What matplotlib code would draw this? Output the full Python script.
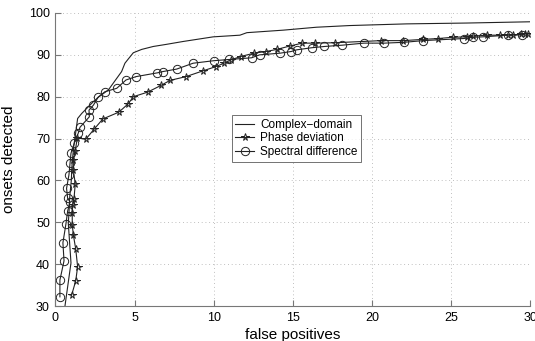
import matplotlib
matplotlib.use('Agg')
import matplotlib.pyplot as plt

# Complex-domain (line only)
cd_fp = [0.60, 0.98, 0.81, 0.85, 0.90, 1.00, 1.05, 1.15, 1.30, 1.40, 1.66, 2.39, 2.75,
         3.34, 3.76, 4.18, 4.39, 4.60, 4.92, 5.45, 6.18, 7.00, 8.08, 9.97, 11.66, 12.1,
         14.4, 16.5, 18.6, 22.2, 26.0, 30.0]
cd_on = [30.0, 40.3, 49.8, 52.0, 56.0, 60.0, 64.0, 68.0, 72.0, 74.8, 76.0, 78.8, 80.0,
         81.6, 83.8, 86.0, 88.0, 89.0, 90.5, 91.3, 92.0, 92.5, 93.2, 94.3, 94.7, 95.3,
         95.9, 96.6, 97.0, 97.4, 97.6, 97.9]

# Phase deviation (stars)
pd_fp = [1.02, 1.28, 1.40, 1.28, 1.13, 1.06, 1.06, 1.09, 1.17, 1.25, 1.13, 1.13, 1.25,
         1.38, 1.93, 2.43, 3.00, 4.00, 4.60, 4.92, 5.83, 6.67, 7.24, 8.25, 9.34, 10.15,
         10.65, 11.1, 11.7, 12.55, 13.3, 14.0, 14.8, 15.6, 16.4, 17.7, 20.6, 22.0, 23.25,
         24.2, 25.1, 26.0, 26.4, 27.3, 28.1, 28.6, 28.9, 29.4, 29.7, 29.9]
pd_on = [32.6, 36.0, 39.4, 43.6, 47.0, 49.4, 52.3, 54.2, 55.6, 59.2, 62.5, 64.9, 67.1,
         70.1, 69.9, 72.2, 74.7, 76.3, 78.3, 80.0, 81.1, 82.7, 83.9, 84.8, 86.2, 87.2,
         88.0, 88.8, 89.6, 90.4, 90.8, 91.3, 92.1, 92.8, 92.8, 92.9, 93.4, 93.4, 93.7,
         93.9, 94.2, 94.3, 94.5, 94.7, 94.7, 94.8, 94.8, 94.9, 95.0, 95.0]

# Spectral difference (circles)
sd_fp = [0.28, 0.28, 0.54, 0.47, 0.66, 0.77, 0.92, 0.77, 0.70, 0.85, 0.92, 0.98, 1.20,
         1.44, 1.55, 2.14, 2.12, 2.40, 2.70, 3.13, 3.87, 4.46, 5.09, 6.44, 6.78, 7.66,
         8.70, 10.0, 11.0, 12.4, 12.9, 14.2, 14.9, 15.25, 16.2, 17.0, 18.1, 19.5, 20.8,
         22.05, 23.25, 25.8, 26.4, 27.0, 28.6, 29.5]
sd_on = [32.2, 36.2, 40.8, 45.1, 49.6, 52.7, 54.9, 55.7, 58.1, 61.3, 64.1, 66.5, 69.0,
         71.3, 72.7, 75.2, 76.8, 78.0, 79.9, 81.2, 82.0, 84.0, 84.8, 85.7, 86.0, 86.6,
         88.0, 88.6, 88.9, 89.3, 90.0, 90.4, 90.8, 91.2, 91.7, 92.0, 92.3, 92.8, 92.8,
         93.0, 93.4, 93.9, 94.2, 94.3, 94.7, 94.8]

plt.rcParams['font.family'] = ['Liberation Sans', 'DejaVu Sans']

fig = plt.figure(figsize=(5.35, 3.41), dpi=100)
ax = fig.add_axes([0.1037, 0.1026, 0.887, 0.8593])

lc = '#222222'
ax.plot(cd_fp, cd_on, '-', color=lc, lw=0.8, label='Complex\u2212domain')
ax.plot(pd_fp, pd_on, '-', color=lc, lw=0.8, marker='*', ms=5.5, mfc='none',
        mew=0.7, label='Phase deviation')
ax.plot(sd_fp, sd_on, '-', color=lc, lw=0.8, marker='o', ms=6, mfc='none',
        mew=0.7, label='Spectral difference')

ax.set_xlim(0, 30)
ax.set_ylim(30, 100)
ax.set_xticks([0, 5, 10, 15, 20, 25, 30])
ax.set_yticks([30, 40, 50, 60, 70, 80, 90, 100])
ax.grid(True, linestyle=(0, (1, 3.5)), color='#aaaaaa', lw=0.6)

for s in ['top', 'right']:
    ax.spines[s].set_visible(False)
for s in ['left', 'bottom']:
    ax.spines[s].set_color('#777777')
ax.tick_params(direction='in', length=4, color='#777777', labelsize=9, pad=4)

ax.set_xlabel('false positives', fontsize=11, labelpad=3)
ax.set_ylabel('onsets detected', fontsize=11, labelpad=9)

leg = ax.legend(loc='center', bbox_to_anchor=(0.508, 0.572), fontsize=8.5,
                frameon=True, fancybox=False, handlelength=1.6, borderpad=0.3,
                labelspacing=0.15, handletextpad=0.5, borderaxespad=0)
leg.get_frame().set_edgecolor('#333333')
leg.get_frame().set_linewidth(0.6)

fig.savefig('out.png', dpi=100)
